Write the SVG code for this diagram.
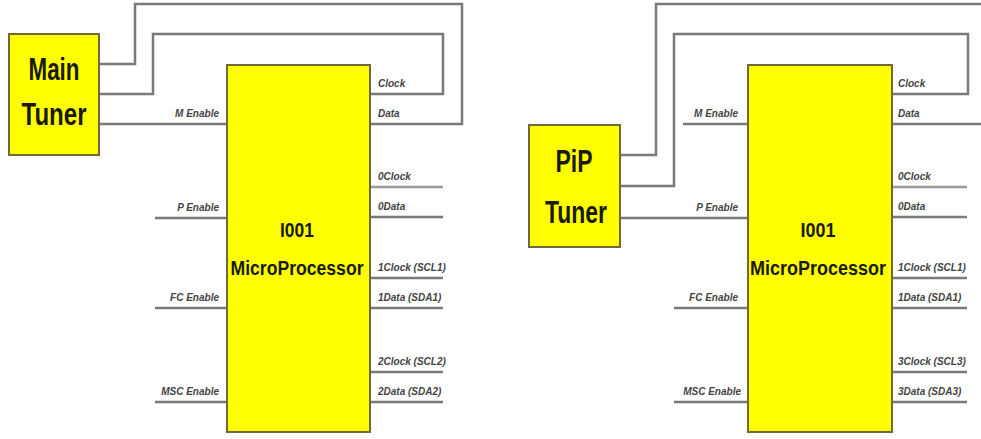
<svg xmlns="http://www.w3.org/2000/svg" width="981" height="439" viewBox="0 0 981 439">
<style>
.box{fill:#ffff00;stroke:#6e6a3c;stroke-width:2}
.w{fill:none;stroke:#7a7a7a;stroke-width:2.5;stroke-linejoin:miter}
.lw{fill:none;stroke:#9a9a9a;stroke-width:2.5}
.big{font-family:"Liberation Sans",Arial,sans-serif;font-weight:bold;font-size:31px;fill:#1a1a00;text-anchor:middle}
.mp{font-family:"Liberation Sans",Arial,sans-serif;font-weight:bold;font-size:20px;fill:#1a1a00;text-anchor:middle}
.lb{font-family:"Liberation Sans",Arial,sans-serif;font-weight:bold;font-style:italic;font-size:10px;fill:#444}
.l{text-anchor:end}
</style>
<rect width="981" height="439" fill="#ffffff"/>
<g id="connectors">
<polyline class="w" points="99,64 135,64 135,4 462,4 462,124 370,124"/>
<polyline class="w" points="99,94 153,94 153,34 443,34 443,94 370,94"/>
<line class="w" x1="99" y1="124" x2="227" y2="124"/>
<line class="w" x1="155" y1="218" x2="227" y2="218"/>
<line class="w" x1="155" y1="308" x2="227" y2="308"/>
<line class="w" x1="155" y1="402" x2="227" y2="402"/>
<line class="lw" x1="370" y1="187" x2="443" y2="187"/>
<line class="w" x1="370" y1="217" x2="443" y2="217"/>
<line class="w" x1="370" y1="278" x2="443" y2="278"/>
<line class="w" x1="370" y1="308" x2="443" y2="308"/>
<line class="w" x1="370" y1="372" x2="443" y2="372"/>
<line class="w" x1="370" y1="402" x2="443" y2="402"/>
<polyline class="w" points="620,155 656,155 656,4 985,4"/>
<polyline class="w" points="620,186 674,186 674,34 968,34 968,94 892,94"/>
<line class="w" x1="892" y1="124" x2="985" y2="124"/>
<line class="w" x1="620" y1="218" x2="748" y2="218"/>
<line class="w" x1="683" y1="124" x2="748" y2="124"/>
<line class="w" x1="674" y1="308" x2="748" y2="308"/>
<line class="w" x1="674" y1="402" x2="748" y2="402"/>
<line class="lw" x1="892" y1="187" x2="967" y2="187"/>
<line class="w" x1="892" y1="217" x2="967" y2="217"/>
<line class="w" x1="892" y1="278" x2="967" y2="278"/>
<line class="w" x1="892" y1="308" x2="967" y2="308"/>
<line class="w" x1="892" y1="372" x2="967" y2="372"/>
<line class="w" x1="892" y1="402" x2="967" y2="402"/>
</g>
<g id="main-tuner">
<rect class="box" x="9" y="34" width="90" height="121"/>
<text class="big" x="54" y="80" textLength="51" lengthAdjust="spacingAndGlyphs">Main</text>
<text class="big" x="54" y="125" textLength="65" lengthAdjust="spacingAndGlyphs">Tuner</text>
</g>
<g id="mp-left">
<rect class="box" x="227" y="65" width="143" height="367"/>
<text class="mp" x="297" y="237" textLength="34" lengthAdjust="spacingAndGlyphs">I001</text>
<text class="mp" x="297" y="275" textLength="133" lengthAdjust="spacingAndGlyphs">MicroProcessor</text>
<text class="lb l" x="219" y="117">M Enable</text>
<text class="lb l" x="219" y="211">P Enable</text>
<text class="lb l" x="219" y="301">FC Enable</text>
<text class="lb l" x="219" y="395">MSC Enable</text>
<text class="lb" x="378" y="87">Clock</text>
<text class="lb" x="378" y="117">Data</text>
<text class="lb" x="378" y="180">0Clock</text>
<text class="lb" x="378" y="210">0Data</text>
<text class="lb" x="378" y="271">1Clock (SCL1)</text>
<text class="lb" x="378" y="301">1Data (SDA1)</text>
<text class="lb" x="378" y="365">2Clock (SCL2)</text>
<text class="lb" x="378" y="395">2Data (SDA2)</text>
</g>
<g id="pip-tuner">
<rect class="box" x="529" y="125" width="91" height="122"/>
<text class="big" x="574" y="172" textLength="37" lengthAdjust="spacingAndGlyphs">PiP</text>
<text class="big" x="576" y="223" textLength="62" lengthAdjust="spacingAndGlyphs">Tuner</text>
</g>
<g id="mp-right">
<rect class="box" x="748" y="65" width="144" height="367"/>
<text class="mp" x="818" y="237" textLength="35" lengthAdjust="spacingAndGlyphs">I001</text>
<text class="mp" x="818" y="275" textLength="136" lengthAdjust="spacingAndGlyphs">MicroProcessor</text>
<text class="lb l" x="738" y="117">M Enable</text>
<text class="lb l" x="738" y="211">P Enable</text>
<text class="lb l" x="738" y="301">FC Enable</text>
<text class="lb l" x="741" y="395">MSC Enable</text>
<text class="lb" x="898" y="87">Clock</text>
<text class="lb" x="898" y="117">Data</text>
<text class="lb" x="898" y="180">0Clock</text>
<text class="lb" x="898" y="210">0Data</text>
<text class="lb" x="898" y="271">1Clock (SCL1)</text>
<text class="lb" x="898" y="301">1Data (SDA1)</text>
<text class="lb" x="898" y="365">3Clock (SCL3)</text>
<text class="lb" x="898" y="395">3Data (SDA3)</text>
</g>
</svg>
